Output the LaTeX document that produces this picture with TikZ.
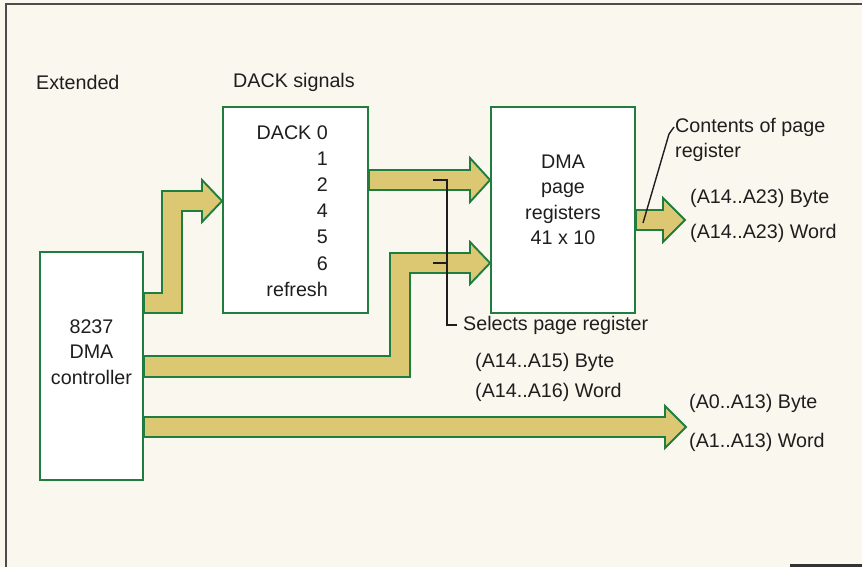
\documentclass[tikz,border=0pt]{standalone}
\usepackage{fontspec}
\setmainfont{Liberation Sans}
\usepackage{tikz}
\usetikzlibrary{positioning, calc}

\definecolor{paper}{HTML}{FAF7EE}
\definecolor{boxgreen}{HTML}{1E7D3F}
\definecolor{busfill}{HTML}{DCC873}
\definecolor{ink}{HTML}{1E1E1E}

\begin{document}
\begin{tikzpicture}[
        x=1pt, y=-1pt,
        unit/.style={draw=boxgreen, fill=white, line width=1.9pt, inner sep=0pt},
        bus/.style={draw=boxgreen, fill=busfill, line width=1.9pt, line join=miter},
        caption/.style={anchor=west, inner sep=0pt, text=ink, font=\fontsize{19.7}{25.5}\selectfont},
        leader/.style={draw=ink, line width=1.4pt}
    ]

    % Page and frame
    \fill[paper] (0,0) rectangle (862,567);
    \useasboundingbox (0,0) rectangle (862,567);
    \draw[gray!60!black, line width=1.5pt] (6,567) -- (6,4) -- (862,4);
    \draw[gray!40!black, line width=3pt] (790,565) -- (862,565);

    % Units - positioned with coordinates
    \node[unit, minimum width=103pt, minimum height=228pt] (ctrl) at (91.5,366) {};
    \node[unit, minimum width=145pt, minimum height=206pt] (dack) at (295.5,210) {};
    \node[unit, minimum width=144pt, minimum height=206pt] (pagereg) at (563,210) {};

    % Unit texts
    \node[caption, anchor=center, align=center] (ctrltxt) at (ctrl.center |- 0,352) {8237\\DMA\\controller};
    \node[caption, anchor=east, align=right, font=\fontsize{19.7}{26.2}\selectfont] (dacktxt) at (328,211) {DACK 0\\1\\2\\4\\5\\6\\refresh};
    \node[caption, anchor=center, align=center] (pagetxt) at (pagereg.center |- 0,200) {DMA\\page\\registers\\41 x 10};

    % Headings
    \node[caption] (extended) at (36,82) {Extended};
    \node[caption] (dacksig) at (233,82) {DACK signals};

    % Buses
    \draw[bus] (ctrl.east |- 0,293) -- (162,293) -- (162,191) -- (202,191) -- (202,180)
        -- (dack.west |- 0,201) -- (202,222) -- (202,211) -- (182,211) -- (182,313)
        -- (ctrl.east |- 0,313) -- cycle;
    \draw[bus] (dack.east |- 0,170) -- (470,170) -- (470,158) -- (pagereg.west |- 0,180)
        -- (470,202) -- (470,190) -- (dack.east |- 0,190) -- cycle;
    \draw[bus] (ctrl.east |- 0,356) -- (390,356) -- (390,253) -- (470,253) -- (470,242)
        -- (pagereg.west |- 0,263) -- (470,284) -- (470,273) -- (410,273) -- (410,377)
        -- (ctrl.east |- 0,377) -- cycle;
    \draw[bus] (pagereg.east |- 0,210) -- (663,210) -- (663,198) -- (685,220)
        -- (663,242) -- (663,230) -- (pagereg.east |- 0,230) -- cycle;
    \draw[bus] (ctrl.east |- 0,417) -- (665,417) -- (665,406) -- (686,427)
        -- (665,448) -- (665,437) -- (ctrl.east |- 0,437) -- cycle;

    % Output labels
    \node[caption] (hibyte) at (690,198) {(A14..A23) Byte};
    \node[caption] (hiword) at (690,233) {(A14..A23) Word};
    \node[caption] (lobyte) at (689,403) {(A0..A13) Byte};
    \node[caption] (loword) at (689,442) {(A1..A13) Word};
    \node[caption] (selects) at (463,325) {Selects page register};
    \node[caption] (selbyte) at (475,362) {(A14..A15) Byte};
    \node[caption] (selword) at (475,392) {(A14..A16) Word};
    \node[caption, align=left] (contents) at (675,140) {Contents of page\\register};

    % Leaders
    \coordinate (tapA) at (433,180);
    \coordinate (tapB) at (433,263);
    \coordinate (tapC) at (643,223);
    \draw[leader] (tapA) -- ++(14,0) |- ([xshift=-6pt]selects.west);
    \draw[leader] (tapB) -- ++(14,0);
    \draw[leader] (tapC) -- (669,134) -- ([xshift=-1pt]contents.west |- 0,127);

\end{tikzpicture}
\end{document}
